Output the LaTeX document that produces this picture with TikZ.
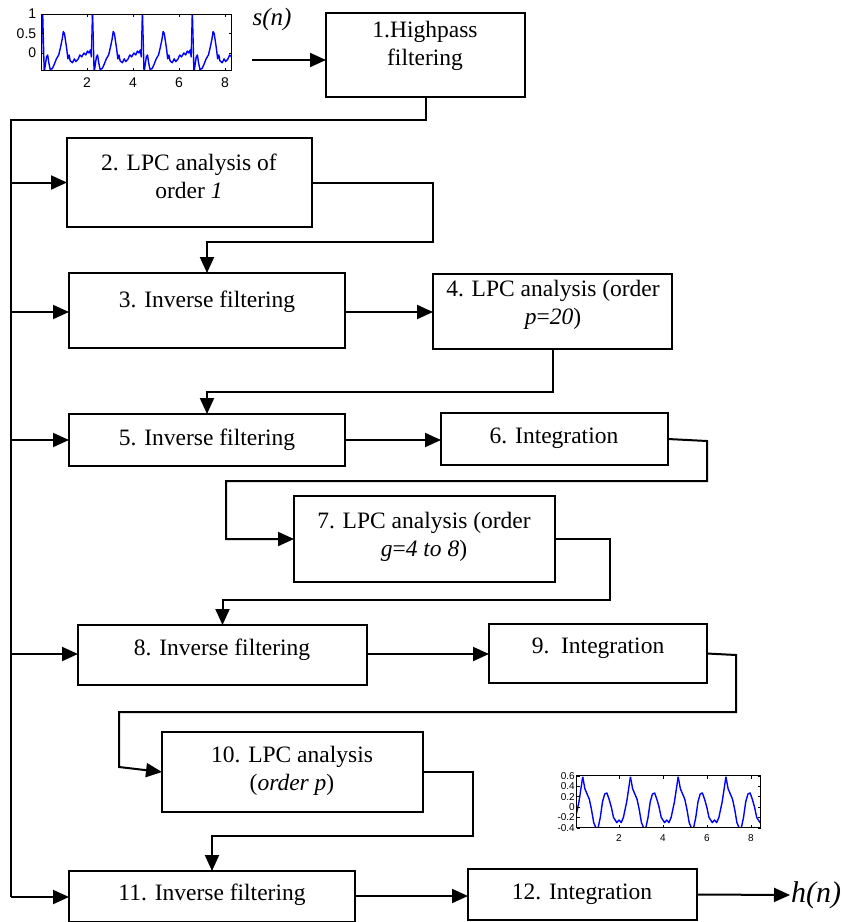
\documentclass[tikz,border=0pt]{standalone}
\usepackage{fontspec}
\setmainfont{Liberation Serif}
\newfontfamily\axisfont{Liberation Sans}
\usetikzlibrary{arrows.meta}
\begin{document}
\begin{tikzpicture}[x=1pt,y=-1pt,
  blk/.style={draw, line width=1.8pt, inner sep=0pt, outer sep=0pt},
  lbl/.style={font=\fontsize{23.5}{28}\selectfont, align=center, inner sep=0pt},
  flow/.style={line width=2pt, -{Triangle[length=16pt,width=14pt]}},
  wire/.style={line width=2pt},
  sig/.style={color={rgb,255:red,0;green,0;blue,255}, line width=1.4pt, line join=round},
  frame/.style={line width=1pt},
  tk/.style={line width=0.6pt},
  numA/.style={font=\axisfont\fontsize{14}{14}\selectfont, inner sep=0pt},
  numB/.style={font=\axisfont\fontsize{10}{10}\selectfont, inner sep=0pt},
]
\useasboundingbox (0,0) rectangle (843,922);

% ---- processing blocks ----
\node[blk, minimum width=199pt, minimum height=84pt] (b1)  at (425.5,55)  {};
\node[blk, minimum width=245pt, minimum height=89pt] (b2)  at (189.5,182.5) {};
\node[blk, minimum width=276pt, minimum height=75pt] (b3)  at (207,310.5) {};
\node[blk, minimum width=239pt, minimum height=75pt] (b4)  at (552.5,311.5) {};
\node[blk, minimum width=276pt, minimum height=52pt] (b5)  at (207,440) {};
\node[blk, minimum width=227pt, minimum height=52pt] (b6)  at (554.5,439) {};
\node[blk, minimum width=261pt, minimum height=86pt] (b7)  at (424.5,539) {};
\node[blk, minimum width=289pt, minimum height=60pt] (b8)  at (222.5,655) {};
\node[blk, minimum width=218pt, minimum height=59pt] (b9)  at (598,653.5) {};
\node[blk, minimum width=261pt, minimum height=80pt] (b10) at (292.5,772) {};
\node[blk, minimum width=286pt, minimum height=51pt] (b11) at (212,896.5) {};
\node[blk, minimum width=229pt, minimum height=51pt] (b12) at (582.5,894.5) {};

% ---- block captions ----
\node[lbl] (t1)  at (425,46)  {1.Highpass\\filtering};
\node[lbl] (t2)  at (189,176) {2. LPC analysis of\\order \textit{1}};
\node[lbl] (t3)  at (207,302) {3. Inverse filtering};
\node[lbl] (t4)  at (553,305) {4. LPC analysis (order\\\textit{p}=\textit{20})};
\node[lbl] (t5)  at (207,440) {5. Inverse filtering};
\node[lbl] (t6)  at (554,438) {6. Integration};
\node[lbl] (t7)  at (424,537) {7. LPC analysis (order\\\textit{g}=\textit{4 to 8})};
\node[lbl] (t8)  at (222,650) {8. Inverse filtering};
\node[lbl] (t9)  at (598,648) {9.\ \ Integration};
\node[lbl] (t10) at (292,771) {10. LPC analysis\\(\textit{order p})};
\node[lbl] (t11) at (212,895) {11. Inverse filtering};
\node[lbl] (t12) at (582,894) {12. Integration};

% ---- input / output ----
\coordinate (in) at (252,60);
\node[font=\fontsize{25}{25}\selectfont\itshape, inner sep=0pt] (sn) at (272,19) {s(n)};
\draw[flow] (in) -- (in -| b1.west);
\coordinate (out) at (790,895);
\draw[flow] (b12.east) -- (out);
\node[font=\fontsize{30}{30}\selectfont\itshape, anchor=west, inner sep=1pt] (hn) at (out) {h(n)};

% ---- signal bus on the left ----
\coordinate (bustop) at (11,120);
\coordinate (busbot) at (11,897);
\draw[wire] (b1.south) -- (b1.south |- bustop) -- (bustop) -- (busbot);
\draw[flow] (b2.west -| bustop) -- (b2.west);
\draw[flow] (11,312) -- (b3.west |- 0,312);
\draw[flow] (b5.west -| bustop) -- (b5.west);
\draw[flow] (11,654) -- (b8.west |- 0,654);
\draw[flow] (busbot) -- (b11.west |- busbot);

% ---- chain connections ----
\draw[flow] (b2.east) -| (433,242) -| (b3.north);
\draw[flow] (b3.east |- 0,312) -- (b4.west |- 0,312);
\draw[flow] (b4.south) -- (b4.south |- 0,392) -| (b5.north);
\draw[flow] (b5.east) -- (b5.east -| b6.west);
\draw[flow] (b6.east) -- (707,441) |- (226,481) |- (b7.west);
\draw[flow] (b7.east) -| (610,600) -| (b8.north);
\draw[flow] (b8.east |- 0,654) -- (b9.west |- 0,654);
\draw[flow] (b9.east) -- (736,655) |- (119,712) -- (119,767) -- (b10.west);
\draw[flow] (b10.east) -| (473,836) -| (b11.north);
\draw[flow] (b11.east |- 0,896) -- (b12.west |- 0,896);

% ---- input waveform s(n) ----
\begin{scope}[shift={(41,53)}, x=23pt, y=39pt]
  \begin{scope}
    \clip (0,-0.46) rectangle (8.3,1.0);
    \foreach \k in {-1,0,1,2,3} {
      \draw[sig, shift={(\k*2.17+0.07,0)}] plot coordinates {
        (0,1.05) (0.03,0.4) (0.07,-0.5) (0.12,-0.3) (0.17,-0.1) (0.22,-0.05)
        (0.27,-0.25) (0.33,-0.42) (0.42,-0.4) (0.5,-0.3) (0.6,-0.15) (0.7,-0.05)
        (0.78,0.15) (0.85,0.35) (0.9,0.55) (0.95,0.5) (1.0,0.3) (1.05,0.1)
        (1.1,-0.15) (1.15,-0.05) (1.2,-0.2) (1.3,-0.25) (1.38,-0.15) (1.45,-0.22)
        (1.55,-0.15) (1.62,-0.05) (1.7,-0.1) (1.8,0.0) (1.88,-0.05) (1.95,0.05)
        (2.02,0.0) (2.08,0.08) (2.12,-0.1) (2.17,1.05)};
    }
  \end{scope}
  \draw[frame] (0,-0.46) rectangle (8.3,1.0);
  \foreach \v in {2,4,6,8} {
    \draw[tk] (\v,-0.46) -- ++(0,0.08) (\v,1.0) -- ++(0,-0.08);
    \node[numA, anchor=north] (sx\v) at (\v,-0.62) {\v};
  }
  \foreach \v/\s in {1/1, 0.5/0.5, 0/0} {
    \draw[tk] (0,\v) -- ++(0.13,0) (8.3,\v) -- ++(-0.13,0);
    \node[numA, anchor=east] (sy\s) at (-0.2,\v) {\s};
  }
\end{scope}

% ---- output waveform h(n) ----
\begin{scope}[shift={(575,807)}, x=22pt, y=52pt]
  \begin{scope}
    \clip (0.09,-0.4) rectangle (8.45,0.6);
    \foreach \k in {-1,0,1,2,3} {
      \draw[sig, shift={(\k*2.17+0.35,0)}] plot coordinates {
        (0,0.58) (0.1,0.35) (0.2,0.25) (0.3,0.15) (0.4,-0.05) (0.5,-0.3)
        (0.6,-0.4) (0.7,-0.4) (0.8,-0.2) (0.9,0.1) (1.0,0.25) (1.1,0.27)
        (1.2,0.15) (1.3,0.0) (1.4,-0.2) (1.55,-0.3) (1.65,-0.25) (1.75,-0.3)
        (1.85,-0.2) (2.0,0.1) (2.17,0.58)};
    }
  \end{scope}
  \draw[frame] (0.09,-0.4) rectangle (8.45,0.6);
  \foreach \v in {2,4,6,8} {
    \draw[tk] (\v,-0.4) -- ++(0,0.06) (\v,0.6) -- ++(0,-0.06);
    \node[numB, anchor=north] (hx\v) at (\v,-0.52) {\v};
  }
  \foreach \v/\s/\n in {0.6/0.6/a, 0.4/0.4/b, 0.2/0.2/c, 0/0/d, -0.2/-0.2/e, -0.4/-0.4/f} {
    \draw[tk] (0.09,\v) -- ++(0.12,0) (8.45,\v) -- ++(-0.12,0);
    \node[numB, anchor=east] (hy\n) at (0.0,\v) {\s};
  }
\end{scope}
\end{tikzpicture}
\end{document}
